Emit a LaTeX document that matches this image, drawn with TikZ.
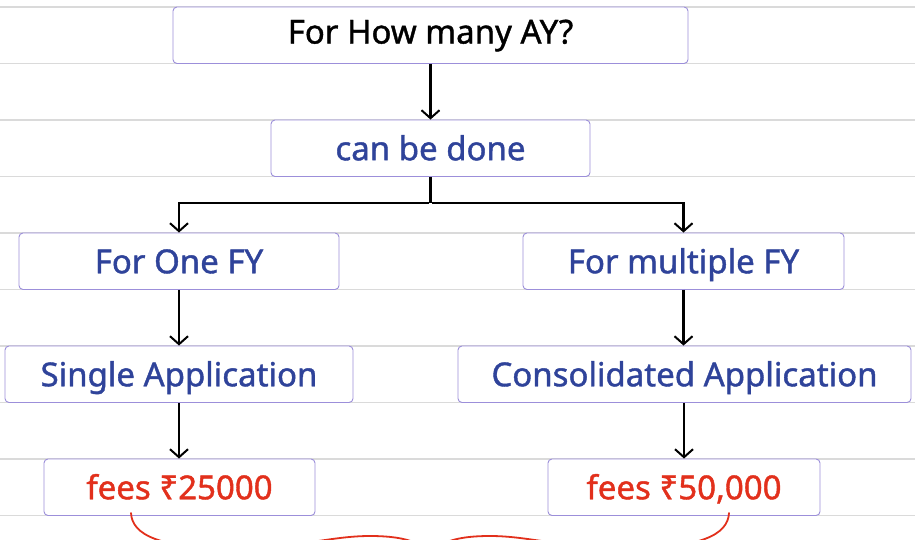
\documentclass[tikz,border=0pt]{standalone}
\usepackage{fontspec}
\setmainfont{Noto Sans}[FakeBold=1.2]
\usetikzlibrary{arrows.meta}
\definecolor{boxline}{HTML}{9C8FDA}
\definecolor{txtblue}{HTML}{2F439A}
\definecolor{txtred}{HTML}{E2301C}
\definecolor{rulegray}{HTML}{DADADA}
\begin{document}
\begin{tikzpicture}[x=1pt,y=-1pt,
  box/.style={draw=boxline, line width=0.9pt, rounded corners=4pt, fill=white, inner sep=0pt, minimum height=56.5pt,
    text height=29pt, text depth=5pt, font=\fontsize{33}{35}\selectfont\bfseries},
  topbox/.style={box, text height=23.6pt, text depth=7pt},
  arr/.style={-{Straight Barb[length=8pt,width=18pt,line width=2pt]}, line width=2.2pt, black},
  link/.style={line width=2.2pt, black},
  bluetxt/.style={text=txtblue},
  redtxt/.style={text=txtred}]
\useasboundingbox (0,0) rectangle (915,540);
\fill[white] (0,0) rectangle (915,540);
\foreach \y in {7,63.5,120,176.5,233,289.5,346,402.5,459,515.5}
  \draw[rulegray, line width=1.3pt] (0,\y) -- (915,\y);

\node[topbox, minimum width=515pt] (ay) at (430.5,35.25) {For How many AY?};
\node[box, bluetxt, minimum width=319pt] (done) at (430.5,148.25) {can be done};
\node[box, bluetxt, minimum width=320pt] (one) at (179,261.25) {For One FY};
\node[box, bluetxt, minimum width=321pt] (multi) at (683.5,261.25) {For multiple FY};
\node[box, bluetxt, minimum width=348pt] (single) at (179,374.25) {Single Application};
\node[box, bluetxt, minimum width=453pt] (cons) at (684.5,374.25) {Consolidated Application};
\node[box, redtxt, minimum width=271pt] (fees1) at (179.5,487.25) {fees ₹25000};
\node[box, redtxt, minimum width=272pt] (fees2) at (684,487.25) {fees ₹50,000};

\draw[arr] (ay.south) -- (done.north);
\coordinate (j) at (430.5,203);
\draw[link] (done.south) -- (j);
\draw[arr] ([xshift=-1.1pt]j) -| (one.north);
\draw[arr] ([xshift=1.1pt]j) -| (multi.north);
\draw[arr] (one.south) -- (one.south |- single.north);
\draw[arr] (multi.south) -- (multi.south |- cons.north);
\draw[arr] (single.south) -- (single.south |- fees1.north);
\draw[arr] ([xshift=-0.5pt]cons.south) -- ([xshift=-0.5pt]cons.south |- fees2.north);

\coordinate (bl) at (131,513);
\coordinate (br) at (729,513);
\coordinate (bt) at (430.5,560);
\begin{scope}
\clip (0,0) rectangle (915,540);
\draw[txtred, line width=1.8pt, line cap=round]
  (bl) .. controls (132,535) and (160,548) .. (230,548)
       .. controls (300,548) and (330,536) .. (370,536)
       .. controls (410,536) and (428,545) .. (bt)
       .. controls (433,545) and (450,536) .. (490,536)
       .. controls (530,536) and (560,548) .. (630,548)
       .. controls (700,548) and (728,535) .. (br);
\end{scope}
\end{tikzpicture}
\end{document}
